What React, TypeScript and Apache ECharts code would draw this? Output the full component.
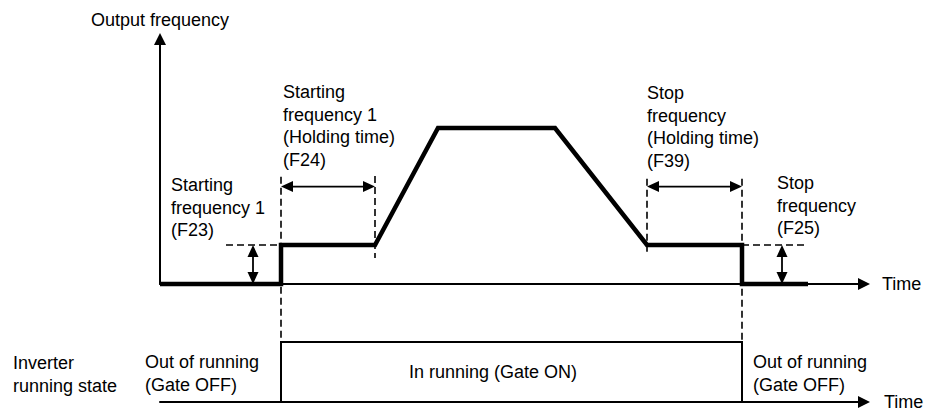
import React, { useEffect, useRef } from "react";
import * as echarts from "echarts";

// Output frequency profile (time in arbitrary units, frequency in levels)
const freqTimes = [0, 12.1, 12.1, 21.5, 27.8, 39.5, 48.7, 58.2, 58.2, 64.8];
const freqLevels = [0, 0, 1, 1, 4, 4, 1, 1, 0, 0];
// Inverter running state (0 = gate OFF, 1 = gate ON)
const stateTimes = [12.1, 12.1, 58.2, 58.2];
const stateLevels = [0, 1, 1, 0];
// Dashed guide lines [x1, y1, x2, y2] (frequency grid units)
const guideLines = [
  [12.1, 2.75, 12.1, -1.49],
  [21.5, 2.77, 21.5, 0.67],
  [48.7, 2.7, 48.7, 0.74],
  [58.2, 2.7, 58.2, -1.49],
  [6.6, 1, 12.1, 1],
  [58.2, 1, 64.4, 1],
];
// Double-headed span arrows [x1, y1, x2, y2]
const spanArrows = [
  [12.1, 2.5, 21.5, 2.5],
  [48.7, 2.5, 58.2, 2.5],
  [9.3, 0, 9.3, 1],
  [62.2, 0, 62.2, 1],
];
const X_MAX = 69.8;
const Y_MAX = 6.13;

const FONT = "'Liberation Sans', Arial, Helvetica, sans-serif";
const INK = "#000";

const labelTexts = {
  f24: "Starting\nfrequency 1\n(Holding time)\n(F24)",
  f23: "Starting\nfrequency 1\n(F23)",
  f39: "Stop\nfrequency\n(Holding time)\n(F39)",
  f25: "Stop\nfrequency\n(F25)",
  inverter: "Inverter\nrunning state",
  outLeft: "Out of running\n(Gate OFF)",
  outRight: "Out of running\n(Gate OFF)",
  inRun: "In running (Gate ON)",
};

function axisLineStyle() {
  return {
    show: true,
    onZero: true,
    symbol: ["none", "triangle"],
    symbolSize: [12, 12],
    symbolOffset: [0, 6],
    lineStyle: { color: INK, width: 2 },
  };
}

function textEl(text: string, x: number, y: number, align = "left", vAlign = "top") {
  return {
    type: "text",
    x,
    y,
    silent: true,
    style: {
      text,
      fill: INK,
      font: `18px ${FONT}`,
      fontSize: 18,
      fontFamily: FONT,
      lineHeight: 22.5,
      align,
      verticalAlign: vAlign,
    },
  };
}

export default function App() {
  const ref = useRef<HTMLDivElement>(null);
  useEffect(() => {
    document.body.style.margin = "0";
    if (!ref.current) return;
    const chart = echarts.init(ref.current, undefined, { renderer: "svg" });

    const spanRender = (params: any, api: any) => {
      const a = api.coord([api.value(0), api.value(1)]);
      const b = api.coord([api.value(2), api.value(3)]);
      const dx = b[0] - a[0];
      const dy = b[1] - a[1];
      const len = Math.hypot(dx, dy) || 1;
      const ux = dx / len;
      const uy = dy / len;
      const px = -uy;
      const py = ux;
      const L = 12;
      const W = 5.5;
      const head = (tip: number[], d: number[]) => {
        const bx = tip[0] - d[0] * L;
        const by = tip[1] - d[1] * L;
        return {
          type: "polygon",
          shape: {
            points: [
              [tip[0], tip[1]],
              [bx + px * W, by + py * W],
              [bx - px * W, by - py * W],
            ],
          },
          style: { fill: INK },
        };
      };
      return {
        type: "group",
        children: [
          {
            type: "line",
            shape: { x1: a[0] + ux * L, y1: a[1] + uy * L, x2: b[0] - ux * L, y2: b[1] - uy * L },
            style: { stroke: INK, lineWidth: 1.8 },
          },
          head(a, [-ux, -uy]),
          head(b, [ux, uy]),
        ],
      };
    };

    const guideRender = (params: any, api: any) => {
      const a = api.coord([api.value(0), api.value(1)]);
      const b = api.coord([api.value(2), api.value(3)]);
      return {
        type: "line",
        shape: { x1: a[0], y1: a[1], x2: b[0], y2: b[1] },
        style: { stroke: INK, lineWidth: 1.6, lineDash: [7, 4] },
      };
    };

    const nameStyle = {
      color: INK,
      fontSize: 18,
      fontFamily: FONT,
    };

    chart.setOption({
      animation: false,
      backgroundColor: "#fff",
      textStyle: { fontFamily: FONT },
      grid: [
        { left: 160, top: 45, width: 698, height: 239 },
        { left: 160, top: 342, width: 698, height: 60 },
      ],
      xAxis: [
        {
          type: "value",
          gridIndex: 0,
          min: 0,
          max: X_MAX,
          axisLine: axisLineStyle(),
          axisTick: { show: false },
          axisLabel: { show: false },
          splitLine: { show: false },
          name: "Time",
          nameLocation: "end",
          nameGap: 24,
          nameTextStyle: { ...nameStyle, align: "left", verticalAlign: "middle" },
        },
        {
          type: "value",
          gridIndex: 1,
          min: 0,
          max: X_MAX,
          axisLine: axisLineStyle(),
          axisTick: { show: false },
          axisLabel: { show: false },
          splitLine: { show: false },
          name: "Time",
          nameLocation: "end",
          nameGap: 26,
          nameTextStyle: { ...nameStyle, align: "left", verticalAlign: "middle" },
        },
      ],
      yAxis: [
        {
          type: "value",
          gridIndex: 0,
          min: 0,
          max: Y_MAX,
          axisLine: axisLineStyle(),
          axisTick: { show: false },
          axisLabel: { show: false },
          splitLine: { show: false },
          name: "Output frequency",
          nameLocation: "end",
          nameGap: 25,
          nameTextStyle: { ...nameStyle, align: "center", verticalAlign: "middle" },
        },
        {
          type: "value",
          gridIndex: 1,
          min: 0,
          max: 1,
          show: false,
        },
      ],
      series: [
        {
          type: "custom",
          name: "guides",
          xAxisIndex: 0,
          yAxisIndex: 0,
          clip: false,
          silent: true,
          renderItem: guideRender,
          data: guideLines,
          encode: { x: [0, 2], y: [1, 3] },
          z: 1,
        },
        {
          type: "line",
          name: "Output frequency",
          xAxisIndex: 0,
          yAxisIndex: 0,
          symbol: "none",
          clip: false,
          lineStyle: { color: INK, width: 4.5, cap: "butt", join: "miter" },
          data: freqTimes.map((t, i) => [t, freqLevels[i]]),
          z: 3,
        },
        {
          type: "line",
          name: "Running state",
          xAxisIndex: 1,
          yAxisIndex: 1,
          symbol: "none",
          clip: false,
          lineStyle: { color: INK, width: 2, cap: "butt", join: "miter" },
          data: stateTimes.map((t, i) => [t, stateLevels[i]]),
          z: 3,
        },
        {
          type: "custom",
          name: "spans",
          xAxisIndex: 0,
          yAxisIndex: 0,
          clip: false,
          silent: true,
          renderItem: spanRender,
          data: spanArrows,
          encode: { x: [0, 2], y: [1, 3] },
          z: 4,
        },
      ],
      graphic: [
        textEl(labelTexts.f24, 283, 81),
        textEl(labelTexts.f23, 171, 174),
        textEl(labelTexts.f39, 647, 82),
        textEl(labelTexts.f25, 777, 172),
        textEl(labelTexts.inverter, 13, 352),
        textEl(labelTexts.outLeft, 145, 351),
        textEl(labelTexts.outRight, 753, 351),
        textEl(labelTexts.inRun, 493, 372, "center", "middle"),
      ],
    });
    return () => chart.dispose();
  }, []);
  return <div ref={ref} style={{ width: 925, height: 411 }} />;
}
